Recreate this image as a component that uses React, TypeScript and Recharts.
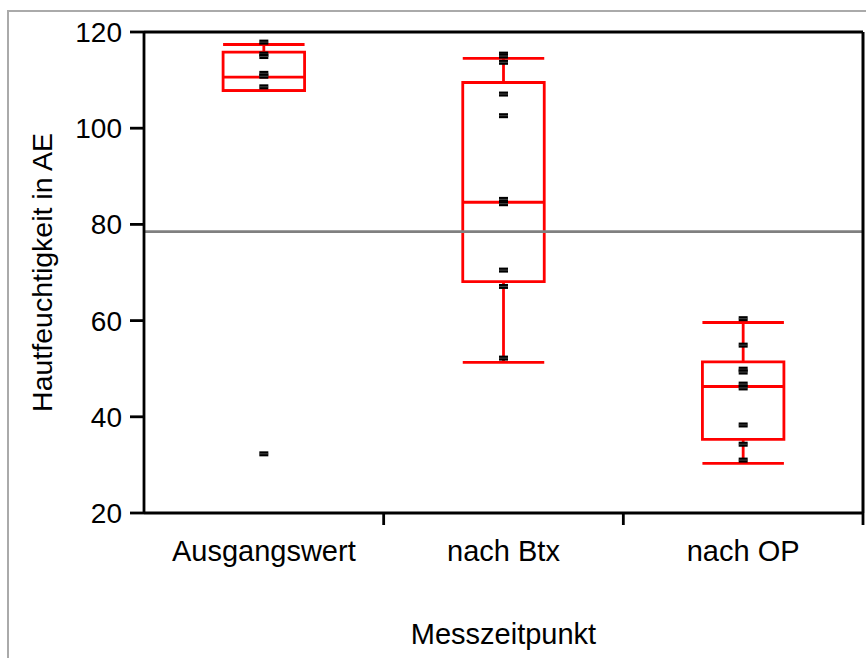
import React from 'react';
import { ComposedChart, XAxis, YAxis, Scatter, ReferenceLine, ReferenceArea } from 'recharts';

const categories = ['Ausgangswert', 'nach Btx', 'nach OP'];
const q1Values = [107.8, 68.1, 35.3];
const medianValues = [110.6, 84.6, 46.3];
const q3Values = [115.8, 109.5, 51.4];
const whiskerLowValues = [107.8, 51.3, 30.3];
const whiskerHighValues = [117.4, 114.5, 59.6];
const grandMean = 78.5;
const pointsAusgangswert = [117.9, 115.4, 114.9, 111.4, 110.8, 108.6, 32.3];
const pointsNachBtx = [115.4, 115.0, 113.7, 107.1, 102.6, 85.2, 84.3, 70.5, 67.1, 52.2];
const pointsNachOP = [60.4, 54.9, 49.9, 49.3, 46.8, 46.0, 38.3, 34.3, 31.0];
const yTicks = [20, 40, 60, 80, 100, 120];
const xTicks = [0.5, 1, 1.5, 2, 2.5, 3];

const seriesPoints = [pointsAusgangswert, pointsNachBtx, pointsNachOP];
const scatterData = seriesPoints.flatMap((arr, i) => arr.map((v) => ({ x: i + 0.5, y: v })));

const FONT = '"Liberation Sans", Arial, Helvetica, sans-serif';
const RED = '#ff0000';
const HALF = 0.17;
const RW = 2.8;

const CategoryTick = (props: any) => {
  const { x, y, payload } = props;
  const v = payload.value;
  if (Number.isInteger(v)) {
    return <line x1={x} x2={x} y1={y} y2={y + 12} stroke="#000" strokeWidth={2.8} />;
  }
  const idx = Math.floor(v);
  return (
    <text x={x} y={y + 48} textAnchor="middle" fontSize={29} fill="#000" fontFamily={FONT}>
      {categories[idx]}
    </text>
  );
};

const PointMark = (props: any) => {
  const { cx, cy } = props;
  return (
    <g>
      <rect x={cx - 4.5} y={cy - 2.5} width={9} height={5} fill="#000" />
      <line x1={cx - 4.5} x2={cx + 4.5} y1={cy} y2={cy} stroke="#666" strokeWidth={0.7} />
    </g>
  );
};

export default function App() {
  return (
    <div style={{ position: 'fixed', left: 0, top: 0, width: 866, height: 658, overflow: 'hidden', background: '#fff', fontFamily: FONT }}>
      <div style={{ position: 'absolute', left: 7, top: 10, right: 0, bottom: 0, borderTop: '2px solid #aaaaaa', borderLeft: '2px solid #aaaaaa' }} />
      <div style={{ position: 'absolute', left: 0, top: 0 }}>
        <ComposedChart width={866} height={658} margin={{ top: 32, right: 3, left: 0, bottom: 0 }} data={scatterData}>
          <XAxis
            type="number"
            dataKey="x"
            domain={[0, 3]}
            ticks={xTicks}
            interval={0}
            tick={<CategoryTick />}
            tickLine={false}
            tickSize={0}
            tickMargin={0}
            height={145}
            axisLine={{ stroke: '#000', strokeWidth: 2.8 }}
            label={{
              content: (p: any) => {
                const vb = p.viewBox;
                return (
                  <text x={vb.x + vb.width / 2} y={644} textAnchor="middle" fontSize={29} fill="#000" fontFamily={FONT}>
                    Messzeitpunkt
                  </text>
                );
              },
            }}
          />
          <YAxis
            type="number"
            domain={[20, 120]}
            ticks={yTicks}
            interval={0}
            width={144}
            tickSize={14}
            tickMargin={8}
            tick={{ fontSize: 28, fill: '#000', fontFamily: FONT }}
            tickLine={{ stroke: '#000', strokeWidth: 2.8 }}
            axisLine={{ stroke: '#000', strokeWidth: 2.8 }}
            label={{
              content: (p: any) => {
                const vb = p.viewBox;
                const cx = 42;
                const cy = vb.y + vb.height / 2;
                return (
                  <text
                    x={cx}
                    y={cy}
                    transform={`rotate(-90 ${cx} ${cy})`}
                    textAnchor="middle"
                    dominantBaseline="central"
                    fontSize={28.5}
                    fill="#000"
                    fontFamily={FONT}
                  >
                    Hautfeuchtigkeit in AE
                  </text>
                );
              },
            }}
          />
          <ReferenceLine y={grandMean} stroke="#808080" strokeWidth={2.6} />
          <ReferenceLine y={120} stroke="#000" strokeWidth={2.8} />
          <ReferenceLine x={3} stroke="#000" strokeWidth={3} />
          {categories.map((c, i) => (
            <ReferenceArea
              key={`box-${c}`}
              x1={i + 0.5 - HALF}
              x2={i + 0.5 + HALF}
              y1={q1Values[i]}
              y2={q3Values[i]}
              fill="none"
              fillOpacity={0}
              stroke={RED}
              strokeWidth={RW}
              strokeOpacity={1}
            />
          ))}
          {categories.map((c, i) => (
            <ReferenceLine
              key={`med-${c}`}
              segment={[{ x: i + 0.5 - HALF, y: medianValues[i] }, { x: i + 0.5 + HALF, y: medianValues[i] }]}
              stroke={RED}
              strokeWidth={RW}
            />
          ))}
          {categories.map((c, i) => (
            <ReferenceLine
              key={`wh-${c}`}
              segment={[{ x: i + 0.5, y: q3Values[i] }, { x: i + 0.5, y: whiskerHighValues[i] }]}
              stroke={RED}
              strokeWidth={RW}
            />
          ))}
          {categories.map((c, i) => (
            <ReferenceLine
              key={`wl-${c}`}
              segment={[{ x: i + 0.5, y: q1Values[i] }, { x: i + 0.5, y: whiskerLowValues[i] }]}
              stroke={RED}
              strokeWidth={RW}
            />
          ))}
          {categories.map((c, i) => (
            <ReferenceLine
              key={`ch-${c}`}
              segment={[{ x: i + 0.5 - HALF, y: whiskerHighValues[i] }, { x: i + 0.5 + HALF, y: whiskerHighValues[i] }]}
              stroke={RED}
              strokeWidth={RW}
            />
          ))}
          {categories.map((c, i) => (
            <ReferenceLine
              key={`cl-${c}`}
              segment={[{ x: i + 0.5 - HALF, y: whiskerLowValues[i] }, { x: i + 0.5 + HALF, y: whiskerLowValues[i] }]}
              stroke={RED}
              strokeWidth={RW}
            />
          ))}
          <Scatter dataKey="y" data={scatterData} shape={<PointMark />} isAnimationActive={false} />
        </ComposedChart>
      </div>
    </div>
  );
}
